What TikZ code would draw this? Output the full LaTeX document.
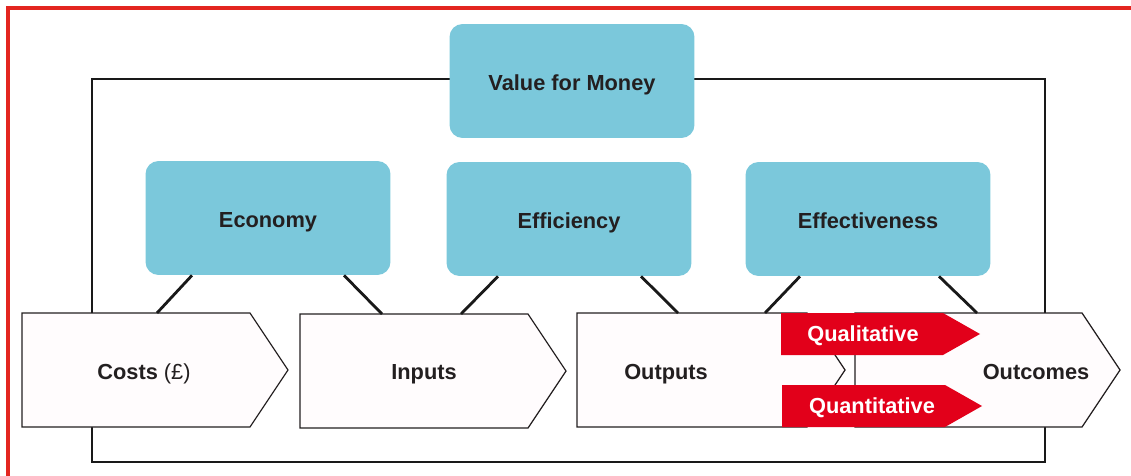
\documentclass[tikz,border=0pt]{standalone}
\usepackage{fontspec}
\setmainfont{Liberation Sans}
\usetikzlibrary{calc}
\definecolor{framecolor}{RGB}{227,37,31}
\definecolor{valuecolor}{RGB}{123,200,219}
\definecolor{measurecolor}{RGB}{226,0,26}
\definecolor{inkcolor}{RGB}{35,31,32}
\definecolor{stagecolor}{RGB}{255,252,253}

\begin{document}
\begin{tikzpicture}[
    x=0.02cm, y=-0.02cm,
    label font/.style={font=\fontsize{12.4}{15}\selectfont\bfseries, text height=8.4pt, text depth=0pt},
    value/.style={label font, text height=10.8pt, fill=valuecolor, rounded corners=0.26cm, minimum width=4.9cm, minimum height=2.28cm, text=inkcolor, align=center},
    stage/.style={draw=inkcolor, fill=stagecolor, line width=0.7pt, line join=miter},
    stagetext/.style={label font, text=inkcolor},
    measure/.style={fill=measurecolor},
    measuretext/.style={label font, text=white},
    link/.style={line width=1.6pt, draw=black!90}
]
    \useasboundingbox (0,0) rectangle (1131,476);

    % Frame and outline
    \draw[framecolor, line width=2.3pt] (8,480) -- (8,8) -- (1135,8);
    \draw[black!90, line width=1.6pt] (92,79) rectangle (1045,462);

    % Stages
    \draw[stage] (22,313) -- (250,313) -- (288,370) -- (250,427) -- (22,427) -- cycle;
    \draw[stage] (300,314) -- (528,314) -- (566,371) -- (528,428) -- (300,428) -- cycle;
    \draw[stage] (855,313) -- (1082,313) -- (1120,370) -- (1082,427) -- (855,427) -- cycle;
    \draw[stage] (577,313) -- (807,313) -- (845,370) -- (807,427) -- (577,427) -- cycle;
    \node[stagetext] (costs) at (144,372) {Costs {\mdseries (£)}};
    \node[stagetext] (inputs) at (424,372) {Inputs};
    \node[stagetext] (outputs) at (666,372) {Outputs};
    \node[stagetext] (outcomes) at (1036,372) {Outcomes};
    \coordinate (costs-top) at (157,313);
    \coordinate (inputs-left) at (382,314);
    \coordinate (inputs-right) at (461,314);
    \coordinate (outputs-left) at (678,313);
    \coordinate (outputs-right) at (765,313);
    \coordinate (outcomes-top) at (977,313);

    % Measures
    \fill[measure] (781,313) -- (943,313) -- (980,334) -- (943,355) -- (781,355) -- cycle;
    \fill[measure] (782,385) -- (945,385) -- (982,406) -- (945,427) -- (782,427) -- cycle;
    \node[measuretext] (quali) at (863,334) {Qualitative};
    \node[measuretext] (quanti) at (872,406) {Quantitative};

    % Value for money
    \node[value] (vfm) at (572,81) {Value for Money};
    \node[value] (economy) at (268,218) {Economy};
    \node[value] (efficiency) at (569,219) {Efficiency};
    \node[value] (effect) at (868,219) {Effectiveness};

    % Links
    \draw[link] ($(economy.south)+(-76,0)$) -- (costs-top);
    \draw[link] ($(economy.south)+(76,0)$) -- (inputs-left);
    \draw[link] ($(efficiency.south)+(-71,0)$) -- (inputs-right);
    \draw[link] ($(efficiency.south)+(72,0)$) -- (outputs-left);
    \draw[link] ($(effect.south)+(-68,0)$) -- (outputs-right);
    \draw[link] ($(effect.south)+(71,0)$) -- (outcomes-top);
\end{tikzpicture}
\end{document}
